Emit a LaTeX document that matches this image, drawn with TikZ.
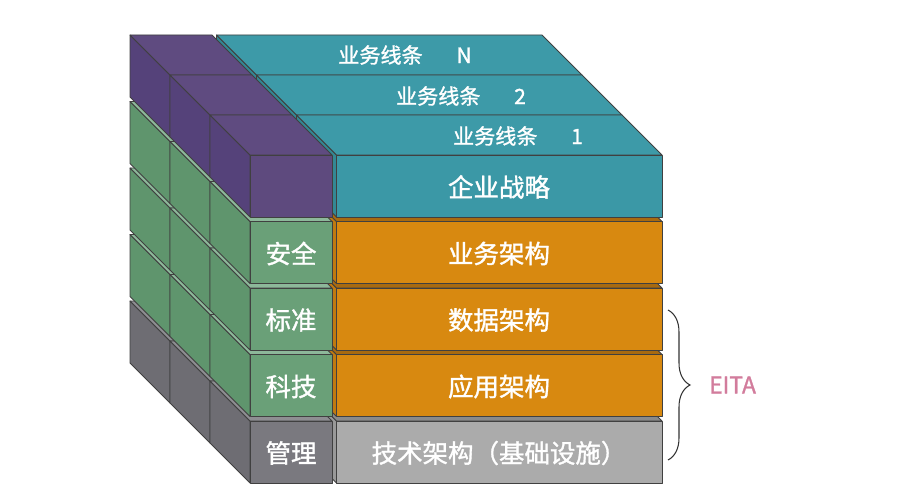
\documentclass[tikz,border=0pt]{standalone}
\usepackage{fontspec}
\setmainfont{Noto Sans CJK SC}[FakeBold=1.3, AutoFakeBold=1.3]
\usetikzlibrary{decorations.pathreplacing}

\definecolor{morado}{HTML}{5E4A7E}
\definecolor{moradoS}{HTML}{5F4B80}
\definecolor{moradoL}{HTML}{55427A}
\definecolor{turquesa}{HTML}{3B98A6}
\definecolor{turquesaS}{HTML}{3D9AA8}
\definecolor{turquesaL}{HTML}{338894}
\definecolor{verde}{HTML}{6AA078}
\definecolor{verdeS}{HTML}{8DB89A}
\definecolor{verdeL}{HTML}{5F956D}
\definecolor{naranja}{HTML}{D88910}
\definecolor{naranjaS}{HTML}{A86A10}
\definecolor{naranjaL}{HTML}{C07A10}
\definecolor{grisC}{HTML}{ABABAB}
\definecolor{grisCS}{HTML}{8A8A8A}
\definecolor{grisCL}{HTML}{999999}
\definecolor{grisO}{HTML}{7A797F}
\definecolor{grisOS}{HTML}{8E8E92}
\definecolor{grisOL}{HTML}{6E6D73}
\definecolor{rosa}{HTML}{D27C9C}

\tikzset{
  borde/.style={draw=black!75, line width=0.45pt, line join=round},
  rotulo/.style={text=white, inner sep=0pt, font=\fontsize{14.5}{15}\selectfont\bfseries},
  franja/.style={text=white, inner sep=0pt, font=\fontsize{12}{13}\selectfont\bfseries},
}

% bloque: color, x, y, ancho (alto 62, fondo 40)
\newcommand{\caja}[4]{%
  \filldraw[borde, fill=#1L] (#2,#3) -- ++(-40,-40) -- ++(0,62) -- ++(40,40) -- cycle;
  \filldraw[borde, fill=#1S] (#2,#3) -- ++(-40,-40) -- ++(#4,0) -- ++(40,40) -- cycle;
  \filldraw[borde, fill=#1] (#2,#3) rectangle ++(#4,62);
}

\begin{document}
\begin{tikzpicture}[x=0.02cm, y=-0.02cm]
\useasboundingbox (0,0) rectangle (900,500);

% Capas
\foreach \s in {2,1,0}{
  \begin{scope}[shift={(-40*\s,-40*\s)}]
    \foreach \r/\ci/\cd in {4/grisO/grisC, 3/verde/naranja, 2/verde/naranja, 1/verde/naranja, 0/morado/turquesa}{
      \pgfmathsetmacro\yt{155+66.5*\r}
      \caja{\cd}{336.5}{\yt}{325.5}
      \caja{\ci}{250}{\yt}{82}
    }
  \end{scope}
}

% Textos
\foreach \t/\x/\y [count=\i] in {1/518/136, 2/461/96, N/405/55}
  \node[franja] (linea\i) at (\x,\y) {业务线条\hspace{1.6em}\t};

\foreach \t [count=\r from 0] in {企业战略, 业务架构, 数据架构, 应用架构, 技术架构（基础设施）}
  \node[rotulo] (der\r) at (499,{187+66.5*\r}) {\t};

\foreach \t [count=\r from 1] in {安全, 标准, 科技, 管理}
  \node[rotulo] (izq\r) at (291,{187+66.5*\r}) {\t};

% Llave
\coordinate (ba) at (668,310);
\coordinate (bb) at (668,460);
\draw[black!80, line width=0.6pt, decorate, decoration={brace, amplitude=0.44cm}] (ba) -- (bb);
\node[text=rosa, font=\fontsize{13}{14}\selectfont, anchor=west] (eita) at (703,385) {EITA};

\end{tikzpicture}
\end{document}
